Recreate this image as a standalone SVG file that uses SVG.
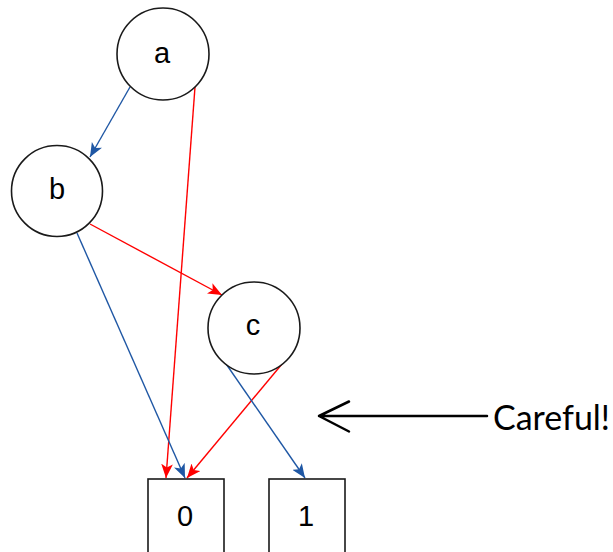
<svg xmlns="http://www.w3.org/2000/svg" width="613" height="552" viewBox="0 0 613 552">
  <style>
    .node { fill: #ffffff; stroke: #1a1a1a; stroke-width: 1.6; }
    .label { font-family: "Liberation Sans", Arial, sans-serif; font-size: 29px; fill: #000000; text-anchor: middle; }
    .lo { stroke: #1f57a4; stroke-width: 1.4; fill: none; marker-end: url(#ahBlue); }
    .hi { stroke: #ff0000; stroke-width: 1.4; fill: none; marker-end: url(#ahRed); }
    .note { font-family: "Lato", "Open Sans", sans-serif; font-size: 35px; fill: #000000; }
  </style>
  <defs>
    <marker id="ahBlue" viewBox="0 0 12 10" refX="12" refY="5" markerWidth="14" markerHeight="12" markerUnits="userSpaceOnUse" orient="auto">
      <path d="M0,0 L12,5 L0,10 L3,5 Z" fill="#1f57a4"/>
    </marker>
    <marker id="ahRed" viewBox="0 0 12 10" refX="12" refY="5" markerWidth="14" markerHeight="12" markerUnits="userSpaceOnUse" orient="auto">
      <path d="M0,0 L12,5 L0,10 L3,5 Z" fill="#ff0000"/>
    </marker>
  </defs>

  <!-- edges -->
  <g id="edges">
    <line class="lo" x1="130" y1="87" x2="90" y2="157"/>
    <line class="hi" x1="195" y1="87" x2="166" y2="478"/>
    <line class="lo" x1="77" y1="233" x2="185" y2="478"/>
    <line class="hi" x1="90" y1="224" x2="222" y2="295"/>
    <line class="hi" x1="287" y1="358" x2="187" y2="478"/>
    <line class="lo" x1="222" y1="358" x2="305" y2="478"/>
  </g>

  <!-- decision nodes -->
  <g id="node-a">
    <circle class="node" cx="163" cy="54" r="46"/>
    <text class="label" x="162" y="63">a</text>
  </g>
  <g id="node-b">
    <circle class="node" cx="57" cy="191" r="45.5"/>
    <text class="label" x="57" y="199">b</text>
  </g>
  <g id="node-c">
    <circle class="node" cx="254" cy="328" r="46"/>
    <text class="label" x="253" y="335">c</text>
  </g>

  <!-- terminal nodes -->
  <g id="node-0">
    <rect class="node" x="148" y="479" width="76" height="90"/>
    <text class="label" x="185" y="526">0</text>
  </g>
  <g id="node-1">
    <rect class="node" x="269" y="479" width="76" height="90"/>
    <text class="label" x="306" y="526">1</text>
  </g>

  <!-- annotation -->
  <g id="annotation">
    <path d="M487,416 L319,416 M349,401.5 L319,416 L349,431.5" fill="none" stroke="#000000" stroke-width="2.5" stroke-linecap="round" stroke-linejoin="round"/>
    <text class="note" x="493" y="430" textLength="117" lengthAdjust="spacingAndGlyphs">Careful!</text>
  </g>
</svg>
